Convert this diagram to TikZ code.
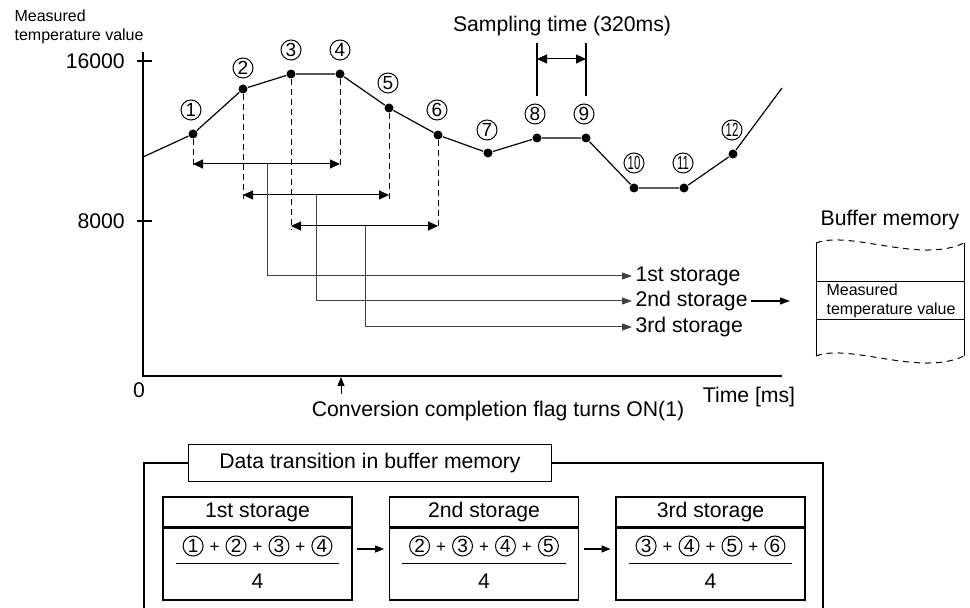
\documentclass[tikz,border=0pt]{standalone}
\usepackage{fontspec}
\setmainfont{Liberation Sans}
\usepackage{graphicx}
\usetikzlibrary{arrows.meta,positioning}

\tikzstyle{dataPoint}=[circle,fill,inner sep=0pt,minimum size=4.5pt]
\tikzstyle{numLabel}=[circle,draw,line width=0.5pt,inner sep=0pt,minimum size=10pt,font=\fontsize{9.5}{9.5}\selectfont]
\tikzstyle{dimArrow}=[{Triangle[length=5pt,width=4.5pt]}-{Triangle[length=5pt,width=4.5pt]},line width=0.5pt]
\tikzstyle{guideLine}=[dash pattern=on 3pt off 2pt,line width=0.5pt]
\tikzstyle{feedLine}=[-{Triangle[length=5pt,width=3.5pt]},line width=0.5pt,black!75]
\tikzstyle{flowArrow}=[-{Triangle[length=4.5pt,width=3.5pt]},shorten <=2.5pt,shorten >=2.5pt]
\tikzstyle{storeText}=[anchor=west,inner sep=1.5pt]
\tikzstyle{headBox}=[draw,minimum width=94.5pt,minimum height=15pt,inner sep=0pt]
\tikzstyle{bodyBox}=[draw,minimum width=94.5pt,minimum height=36pt,inner sep=0pt]
\tikzstyle{smallText}=[align=left,inner sep=0pt,font=\fontsize{8}{9.5}\selectfont]

\newcommand{\cnum}[1]{\tikz[baseline=(c.base)]\node[numLabel](c){#1};}
\newcommand{\plusSep}{\hspace{3pt}{\fontsize{8.5}{8.5}\selectfont+}\hspace{3pt}}
\newcommand{\avgFrac}[4]{\renewcommand{\arraystretch}{0.5}\setlength{\arrayrulewidth}{0.6pt}%
  \begin{tabular}{@{\hspace{3.5pt}}c@{\hspace{3.5pt}}}
    \rule[-5pt]{0pt}{9pt}\cnum{#1}\plusSep\cnum{#2}\plusSep\cnum{#3}\plusSep\cnum{#4}\\ \hline
    \rule{0pt}{12.5pt}4
  \end{tabular}}

\begin{document}
\begin{tikzpicture}[x=0.5pt,y=-0.5pt,font=\fontsize{10.6}{12.7}\selectfont,line width=0.6pt]

  \useasboundingbox (0,0) rectangle (970,608);

  % axes
  \coordinate (ytop) at (143,52);
  \coordinate (orig) at (143,376);
  \coordinate (xend) at (782,376);
  \coordinate (y16) at (143,61);
  \coordinate (y8) at (143,221);
  \draw (ytop) -- (orig) -- (xend);
  \draw ([xshift=-3pt]y16) -- ([xshift=4.5pt]y16);
  \draw ([xshift=-3pt]y8) -- ([xshift=4.5pt]y8);
  \node[anchor=east] (t16) at (132,61) {16000};
  \node[anchor=east] (t8) at (132,221) {8000};
  \node (zero) at (139,390) {0};
  \node[smallText,anchor=north west] (ylabel) at (14,9) {Measured\\temperature value};
  \node (tlabel) at (749,397) {Time [ms]};

  % measured values
  \coordinate (o) at (143,157);
  \node[dataPoint] (p1) at (193,134) {};
  \node[dataPoint] (p2) at (243,89) {};
  \node[dataPoint] (p3) at (291,74) {};
  \node[dataPoint] (p4) at (340,74) {};
  \node[dataPoint] (p5) at (389,108) {};
  \node[dataPoint] (p6) at (438,135) {};
  \node[dataPoint] (p7) at (488,153) {};
  \node[dataPoint] (p8) at (537,138) {};
  \node[dataPoint] (p9) at (586,138) {};
  \node[dataPoint] (p10) at (634,188) {};
  \node[dataPoint] (p11) at (684,188) {};
  \node[dataPoint] (p12) at (733,154) {};
  \coordinate (e) at (782,88);
  \draw (o) -- (p1) -- (p2) -- (p3) -- (p4) -- (p5) -- (p6) -- (p7) -- (p8) -- (p9) -- (p10) -- (p11) -- (p12) -- (e);

  \node[numLabel] (n1) at (191,110) {1};
  \node[numLabel] (n2) at (243,68) {2};
  \node[numLabel] (n3) at (291,50) {3};
  \node[numLabel] (n4) at (340,50) {4};
  \node[numLabel] (n5) at (388,83) {5};
  \node[numLabel] (n6) at (437,110) {6};
  \node[numLabel] (n7) at (487,130) {7};
  \node[numLabel] (n8) at (535,114) {8};
  \node[numLabel] (n9) at (584,114) {9};
  \node[numLabel] (n10) at (634,163) {\scalebox{0.6}[1]{10}};
  \node[numLabel] (n11) at (683,163) {\scalebox{0.6}[1]{11}};
  \node[numLabel] (n12) at (732,130) {\scalebox{0.6}[1]{12}};

  % sampling time
  \node (samp) at (562,26) {Sampling time (320ms)};
  \coordinate (st1) at (537,43);
  \coordinate (st2) at (586,43);
  \coordinate (sa1) at (537,59);
  \coordinate (sa2) at (586,59);
  \draw (st1) -- (st1 |- n8.north) [shorten >=3.5pt];
  \draw (st2) -- (st2 |- n9.north) [shorten >=3.5pt];
  \draw[dimArrow] (sa1) -- (sa2);

  % moving average ranges
  \coordinate (a1l) at (193,164);
  \coordinate (a1r) at (340,164);
  \coordinate (a2l) at (243,195);
  \coordinate (a2r) at (389,195);
  \coordinate (a3l) at (291,226);
  \coordinate (a3r) at (438,226);
  \draw[guideLine,shorten >=-2pt] (p1) -- (a1l);
  \draw[guideLine,shorten >=-2pt] (p4) -- (a1r);
  \draw[guideLine,shorten >=-2pt] (p2) -- (a2l);
  \draw[guideLine,shorten >=-2pt] (p5) -- (a2r);
  \draw[guideLine,shorten >=-2pt] (p3) -- (a3l);
  \draw[guideLine,shorten >=-2pt] (p6) -- (a3r);
  \draw[dimArrow] (a1l) -- (a1r);
  \draw[dimArrow] (a2l) -- (a2r);
  \draw[dimArrow] (a3l) -- (a3r);

  \node[storeText] (s1) at (632,276) {1st storage};
  \node[storeText] (s2) at (632,301) {2nd storage};
  \node[storeText] (s3) at (632,327) {3rd storage};
  \coordinate (m1) at (267,164);
  \coordinate (m2) at (316,195);
  \coordinate (m3) at (365,226);
  \draw[feedLine] (m1) |- (s1.west);
  \draw[feedLine] (m2) |- (s2.west);
  \draw[feedLine] (m3) |- (s3.west);

  % buffer memory
  \node (bufTitle) at (890,220) {Buffer memory};
  \coordinate (bufIn) at (790,301);
  \draw[-{Triangle[length=5pt,width=3.5pt]}] (s2.east) -- (bufIn);
  \draw[line width=0.5pt] (816,243) -- (816,356);
  \draw[line width=0.5pt] (964,243) -- (964,356);
  \draw[line width=0.5pt] (816,282) -- (964,282);
  \draw[line width=0.5pt] (816,320) -- (964,320);
  \draw[dash pattern=on 3pt off 2.5pt,line width=0.5pt] (816,243) .. controls (850,230) and (920,264) .. (964,243);
  \draw[dash pattern=on 3pt off 2.5pt,line width=0.5pt] (816,356) .. controls (850,343) and (920,377) .. (964,356);
  \node[smallText,anchor=west] (bufText) at (826,301) {Measured\\temperature value};

  % conversion flag
  \node (flag) at (498,411) {Conversion completion flag turns ON(1)};
  \coordinate (flagPt) at (341,377);
  \draw[-{Triangle[length=4.5pt,width=3.5pt]},line width=0.5pt] (flag.north -| flagPt) -- (flagPt);

  % data transition
  \node[draw,minimum width=181.5pt,minimum height=18.5pt] (ttl) at (370,463) {Data transition in buffer memory};
  \coordinate (frL) at (144,610);
  \coordinate (frR) at (823,610);
  \draw (ttl.west) -| (frL);
  \draw (ttl.east) -| (frR);

  \node[headBox] (h1) at (257.5,512) {1st storage};
  \node[bodyBox,below=0pt of h1] (b1) {\avgFrac{1}{2}{3}{4}};
  \node[headBox] (h2) at (484,512) {2nd storage};
  \node[bodyBox,below=0pt of h2] (b2) {\avgFrac{2}{3}{4}{5}};
  \node[headBox] (h3) at (710.5,512) {3rd storage};
  \node[bodyBox,below=0pt of h3] (b3) {\avgFrac{3}{4}{5}{6}};
  \draw[flowArrow] ([yshift=7.5pt]b1.east) -- ([yshift=7.5pt]b2.west);
  \draw[flowArrow] ([yshift=7.5pt]b2.east) -- ([yshift=7.5pt]b3.west);

\end{tikzpicture}
\end{document}
